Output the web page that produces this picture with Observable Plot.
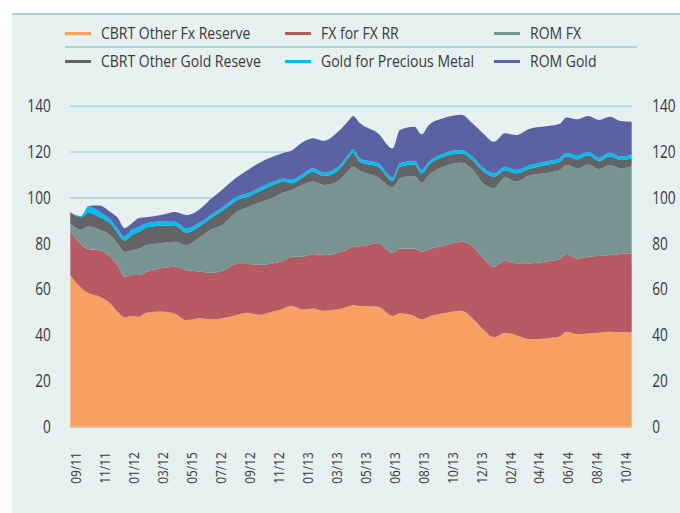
<!DOCTYPE html>
<html><head><meta charset="utf-8">
<script src="https://cdn.jsdelivr.net/npm/d3@7"></script>
<script src="https://cdn.jsdelivr.net/npm/@observablehq/plot@0.6"></script>
<style>
body{margin:0;background:#fff;}
#wrap{position:relative;width:680px;height:513px;overflow:hidden;font-family:"Open Sans",sans-serif;color:#3a3a3a;}
#panel{position:absolute;left:12px;top:13px;width:668px;height:499px;background:#e7f1f0;border-top:2px solid #a9d6d3;}
.leg{position:absolute;height:20px;display:flex;align-items:center;font-size:16px;white-space:nowrap;}
.sw{display:inline-block;width:26px;height:3px;margin-right:10px;}
.lt{display:inline-block;transform:scaleX(0.875);transform-origin:left center;}
#sep{position:absolute;left:65px;top:46px;width:572px;height:2px;background:#a9d6d3;}
#chart{position:absolute;left:0;top:73px;}
</style></head>
<body>
<div id="wrap">
  <div id="panel"></div>
  <div id="legend"></div>
  <div id="sep"></div>
  <div id="chart"></div>
</div>
<script>
// week index of each observation (labels fall every 8 weeks)
const weeks = [0,3,5,8,11,13,15,17,19,21,25,29,32,36,39,42,46,49,52,56,59,61,64,67,70,74,77,78,80,85,89,91,95,97,99,103,108,111,114,117,120,123,127,132,135,137,140,143,146,149,152,155];

const cbrtOtherFx = [66.2,60.5,58.3,56.8,53.8,50.2,47.7,48.3,48.0,49.7,50.2,49.2,46.5,47.3,46.8,47.3,48.7,49.7,48.8,50.2,51.6,52.6,51.2,51.6,50.6,51.2,52.5,53.1,52.6,52.3,48.3,49.5,48.3,46.8,48.0,49.5,50.6,47.3,42.4,39.0,41.0,40.0,38.1,38.6,39.3,41.4,40.4,40.7,41.0,41.4,41.2,41.2];
const fxForFxRR = [19.3,19.0,19.2,20.2,20.3,20.3,17.7,17.9,18.2,17.9,18.9,20.6,21.8,20.3,20.3,20.7,22.3,21.3,21.8,21.1,20.9,21.5,22.9,23.7,24.3,24.7,25.2,25.6,26.1,27.7,27.6,28.2,29.4,29.5,29.4,29.4,30.1,31.5,31.0,30.8,31.5,31.3,33.2,33.6,33.7,33.9,33.0,33.4,33.4,33.5,34.1,34.4];
const romFx = [3.0,6.5,9.8,9.0,9.5,9.5,10.9,10.8,11.5,11.6,10.9,10.9,10.9,15.3,19.0,20.0,22.8,24.7,27.1,28.7,29.7,29.1,31.3,31.6,30.5,31.4,34.3,34.7,32.9,28.7,28.5,30.6,31.6,30.1,32.4,34.5,34.4,33.5,32.7,34.2,36.3,35.6,38.5,38.6,38.7,38.8,39.3,40.3,38.0,39.2,37.4,38.0];
const cbrtOtherGold = [5.0,5.3,6.0,5.5,5.1,4.6,4.9,6.6,7.3,7.7,7.6,6.8,5.4,4.8,5.0,6.2,5.0,4.6,4.8,5.4,4.6,3.0,3.2,4.3,3.9,4.6,5.7,6.1,3.9,4.7,2.9,5.1,5.2,4.1,4.3,4.3,4.1,4.0,5.3,5.0,3.1,3.6,2.8,3.6,3.8,3.9,3.9,4.0,3.6,3.9,3.6,3.4];
const goldPrecious = [0,0.5,2.7,2.3,1.8,1.9,1.7,2.4,2.2,1.8,1.9,1.9,1.9,1.7,1.5,1.5,1.5,1.5,1.5,1.5,1.5,1.5,1.5,1.5,1.5,1.5,1.5,1.5,1.5,1.5,1.5,1.5,1.5,1.5,1.5,1.5,1.5,1.5,1.5,1.5,1.5,1.5,1.5,1.5,1.5,1.5,1.5,1.5,1.5,1.5,1.5,1.5];
const romGold = [0,0,0.3,2.7,3.3,4.8,3.7,2.7,3.8,2.6,2.8,4.2,5.8,5.8,7.0,7.8,8.5,10.2,10.9,10.9,11.2,12.6,13.8,13.1,13.9,15.3,14.6,14.5,15.3,13.0,12.6,14.5,14.8,15.5,16.0,15.3,15.3,14.5,15.0,13.8,14.6,15.2,16.0,15.3,15.0,15.4,16.0,15.6,16.3,15.7,15.5,14.5];

const seriesNames = ["CBRT Other Fx Reserve","FX for FX RR","ROM FX","CBRT Other Gold Reseve","Gold for Precious Metal","ROM Gold"];
const seriesValues = [cbrtOtherFx, fxForFxRR, romFx, cbrtOtherGold, goldPrecious, romGold];
const colors = ["#f8a062","#b75a63","#779493","#636466","#00bdf2","#5a62a4"];

const xLabels = ["09/11","11/11","01/12","03/12","05/15","07/12","09/12","11/12","01/13","03/13","05/13","06/13","08/13","10/13","12/13","02/14","04/14","06/14","08/14","10/14"];
const yTicks = [0,20,40,60,80,100,120,140];

// label i sits centred on the 8-week block starting at week 8*i
const tickWeeks = xLabels.map((d, i) => 1.5 + 8 * i);
const labelAt = new Map(tickWeeks.map((w, i) => [w, xLabels[i]]));

const table = [];
seriesNames.forEach((name, s) => {
  weeks.forEach((w, i) => table.push({week: w, value: seriesValues[s][i], series: name}));
});

// legend (3 columns x 2 rows)
const legend = document.getElementById("legend");
const colX = [65, 285, 493.5];
const rowY = [23, 51];
seriesNames.forEach((name, i) => {
  const el = document.createElement("div");
  el.className = "leg";
  el.style.left = colX[i % 3] + "px";
  el.style.top = rowY[Math.floor(i / 3)] + "px";
  el.innerHTML = `<span class="sw" style="background:${colors[i]}"></span><span class="lt">${name}</span>`;
  legend.appendChild(el);
});

const chart = Plot.plot({
  width: 680,
  height: 440,
  marginTop: 32.7,
  marginBottom: 86.3,
  marginLeft: 70.3,
  marginRight: 48.3,
  x: {domain: [0, 155], label: null},
  y: {domain: [0, 140], label: null},
  color: {domain: seriesNames, range: colors},
  style: {background: "transparent", color: "#3a3a3a", fontFamily: '"Open Sans",sans-serif'},
  marks: [
    Plot.ruleY(yTicks, {stroke: "#a9d6d3", strokeWidth: 1.5}),
    Plot.areaY(table, {x: "week", y: "value", fill: "series", order: seriesNames, curve: "monotone-x"}),
    Plot.axisY(yTicks, {anchor: "left", tickSize: 0, tickPadding: 20, fontSize: 18}),
    Plot.axisY(yTicks, {anchor: "right", tickSize: 0, tickPadding: 20, fontSize: 18}),
    Plot.axisX(tickWeeks, {anchor: "bottom", tickSize: 0, tickPadding: 25, tickRotate: -90, fontSize: 14.5, tickFormat: d => labelAt.get(d)})
  ]
});
document.getElementById("chart").appendChild(chart);

// narrow the glyphs: scale along the text direction about each label's anchor
function condense(selector, k) {
  chart.querySelectorAll(selector).forEach(t => {
    const tr = t.getAttribute("transform") || "";
    t.setAttribute("transform", `${tr} scale(${k},1)`);
  });
}
condense('[aria-label="y-axis tick label"] text', 0.76);
condense('[aria-label="x-axis tick label"] text', 0.82);
</script>
</body></html>
